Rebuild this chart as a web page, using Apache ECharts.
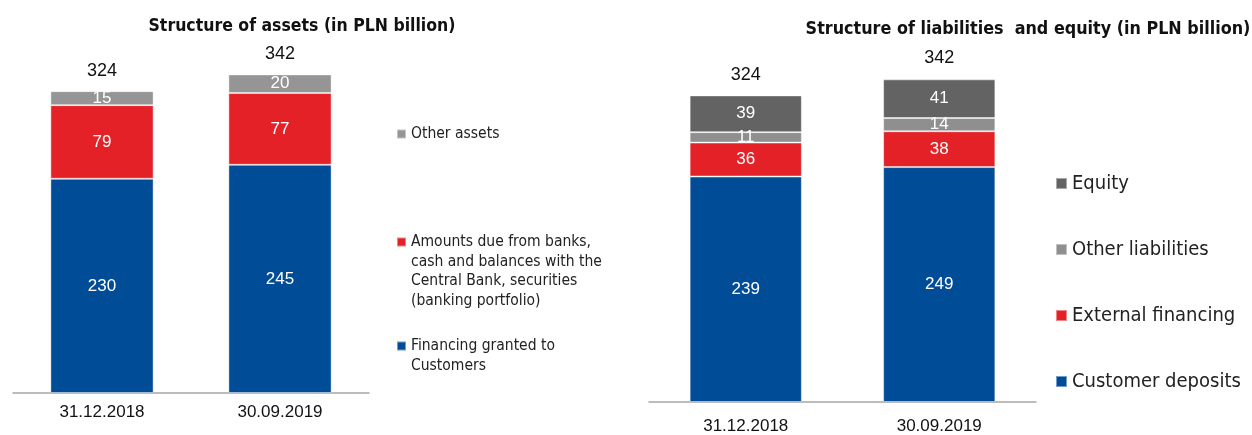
<!DOCTYPE html>
<html>
<head>
<meta charset="utf-8">
<script src="https://cdn.jsdelivr.net/npm/echarts@6/dist/echarts.min.js"></script>
<style>
  html, body { margin: 0; padding: 0; background: #fff; }
  #chart { width: 1252px; height: 435px; }
</style>
</head>
<body>
<div id="chart"></div>
<script>
// Balance sheet structure, PLN billion
const dates = ['31.12.2018', '30.09.2019'];

// Assets
const financingGranted = [230, 245];
const amountsDueFromBanks = [79, 77];
const otherAssets = [15, 20];
const assetsTotal = [324, 342];

// Liabilities and equity
const customerDeposits = [239, 249];
const externalFinancing = [36, 38];
const otherLiabilities = [11, 14];
const equity = [39, 41];
const liabilitiesTotal = [324, 342];

const NAME_FIN = 'Financing granted to\nCustomers';
const NAME_AMT = 'Amounts due from banks,\ncash and balances with the\nCentral Bank, securities\n(banking portfolio)';
const NAME_OTH = 'Other assets';
const NAME_DEP = 'Customer deposits';
const NAME_EXT = 'External financing';
const NAME_OLI = 'Other liabilities';
const NAME_EQ = 'Equity';

const BLUE = '#004c97';
const RED = '#e32127';
const GREY = '#959595';
const DARK = '#636363';

const NARROW = "'DejaVu Sans Condensed', 'Liberation Sans', sans-serif";
const NUM = "'Liberation Sans', Arial, sans-serif";

// Legend text line height for the asset legend
const LH = 19.5;

// Square marker sitting on the first text line of a legend entry of n lines
function topSquare(n) {
  const h = n * LH;
  const y0 = LH / 2 - 4.5;
  return 'path://M0,0h0.01v0.01h-0.01z' +
    'M0,' + y0 + 'h9v9h-9z' +
    'M0,' + (h - 0.01) + 'h0.01v0.01h-0.01z';
}

function segment(name, data, color, axis, stack) {
  return {
    name: name,
    type: 'bar',
    stack: stack,
    xAxisIndex: axis,
    yAxisIndex: axis,
    data: data,
    barWidth: '58%',
    itemStyle: { color: color, borderColor: 'rgba(255,255,255,0.45)', borderWidth: 1 },
    label: {
      show: true,
      position: 'inside',
      color: '#fff',
      fontFamily: NUM,
      fontSize: 17
    },
    emphasis: { disabled: true }
  };
}

function total(data, axis, dist) {
  return {
    name: 'total' + axis,
    type: 'bar',
    xAxisIndex: axis,
    yAxisIndex: axis,
    data: data,
    barWidth: '58%',
    barGap: '-100%',
    z: 1,
    itemStyle: { color: 'rgba(0,0,0,0)' },
    label: {
      show: true,
      position: 'top',
      distance: dist,
      color: '#111',
      fontFamily: NUM,
      fontSize: 18
    },
    emphasis: { disabled: true }
  };
}

function assetLegend(name, lines, top) {
  return {
    data: [name], left: 396, top: top, padding: 0, orient: 'vertical',
    icon: topSquare(lines), itemWidth: 9, itemHeight: lines * LH,
    selectedMode: false,
    textStyle: { color: '#222', fontFamily: NARROW, fontSize: 15.5, lineHeight: LH }
  };
}

const chart = echarts.init(document.getElementById('chart'), null, { renderer: 'canvas' });

chart.setOption({
  animation: false,
  backgroundColor: '#fff',
  title: [
    {
      text: 'Structure of assets (in PLN billion)',
      left: 297, top: 12.5, textAlign: 'center',
      textStyle: { fontFamily: NARROW, fontWeight: 'bold', fontSize: 17.5, color: '#111' }
    },
    {
      text: 'Structure of liabilities  and equity (in PLN billion)',
      left: 1023, top: 15, textAlign: 'center',
      textStyle: { fontFamily: NARROW, fontWeight: 'bold', fontSize: 17.8, color: '#111' }
    }
  ],
  legend: [
    assetLegend(NAME_OTH, 1, 133 - LH / 2),
    assetLegend(NAME_AMT, 4, 241 - LH / 2),
    assetLegend(NAME_FIN, 2, 345 - LH / 2),
    {
      data: [NAME_EQ, NAME_OLI, NAME_EXT, NAME_DEP], left: 1055, top: 172.5, padding: 0,
      orient: 'vertical', itemGap: 44,
      icon: 'rect', itemWidth: 11, itemHeight: 11, selectedMode: false,
      textStyle: { color: '#222', fontFamily: NARROW, fontSize: 20, lineHeight: 22 }
    }
  ],
  grid: [
    { left: 13, right: 883, top: 39, bottom: 42 },
    { left: 649, right: 216, top: 43.5, bottom: 32 }
  ],
  xAxis: [
    {
      type: 'category', gridIndex: 0, data: dates,
      axisLine: { lineStyle: { color: '#a6a6a6', width: 1.5 } },
      axisTick: { show: false },
      axisLabel: { margin: 11, color: '#111', fontFamily: NUM, fontSize: 17 }
    },
    {
      type: 'category', gridIndex: 1, data: dates,
      axisLine: { lineStyle: { color: '#a6a6a6', width: 1.5 } },
      axisTick: { show: false },
      axisLabel: { margin: 16, color: '#111', fontFamily: NUM, fontSize: 17 }
    }
  ],
  yAxis: [
    { type: 'value', gridIndex: 0, min: 0, max: 380, show: false, splitLine: { show: false } },
    { type: 'value', gridIndex: 1, min: 0, max: 380, show: false, splitLine: { show: false } }
  ],
  series: [
    total(assetsTotal, 0, 11),
    segment(NAME_FIN, financingGranted, BLUE, 0, 'assets'),
    segment(NAME_AMT, amountsDueFromBanks, RED, 0, 'assets'),
    segment(NAME_OTH, otherAssets, GREY, 0, 'assets'),
    total(liabilitiesTotal, 1, 12),
    segment(NAME_DEP, customerDeposits, BLUE, 1, 'liab'),
    segment(NAME_EXT, externalFinancing, RED, 1, 'liab'),
    segment(NAME_OLI, otherLiabilities, '#8f8f8f', 1, 'liab'),
    segment(NAME_EQ, equity, DARK, 1, 'liab')
  ]
});
</script>
</body>
</html>
